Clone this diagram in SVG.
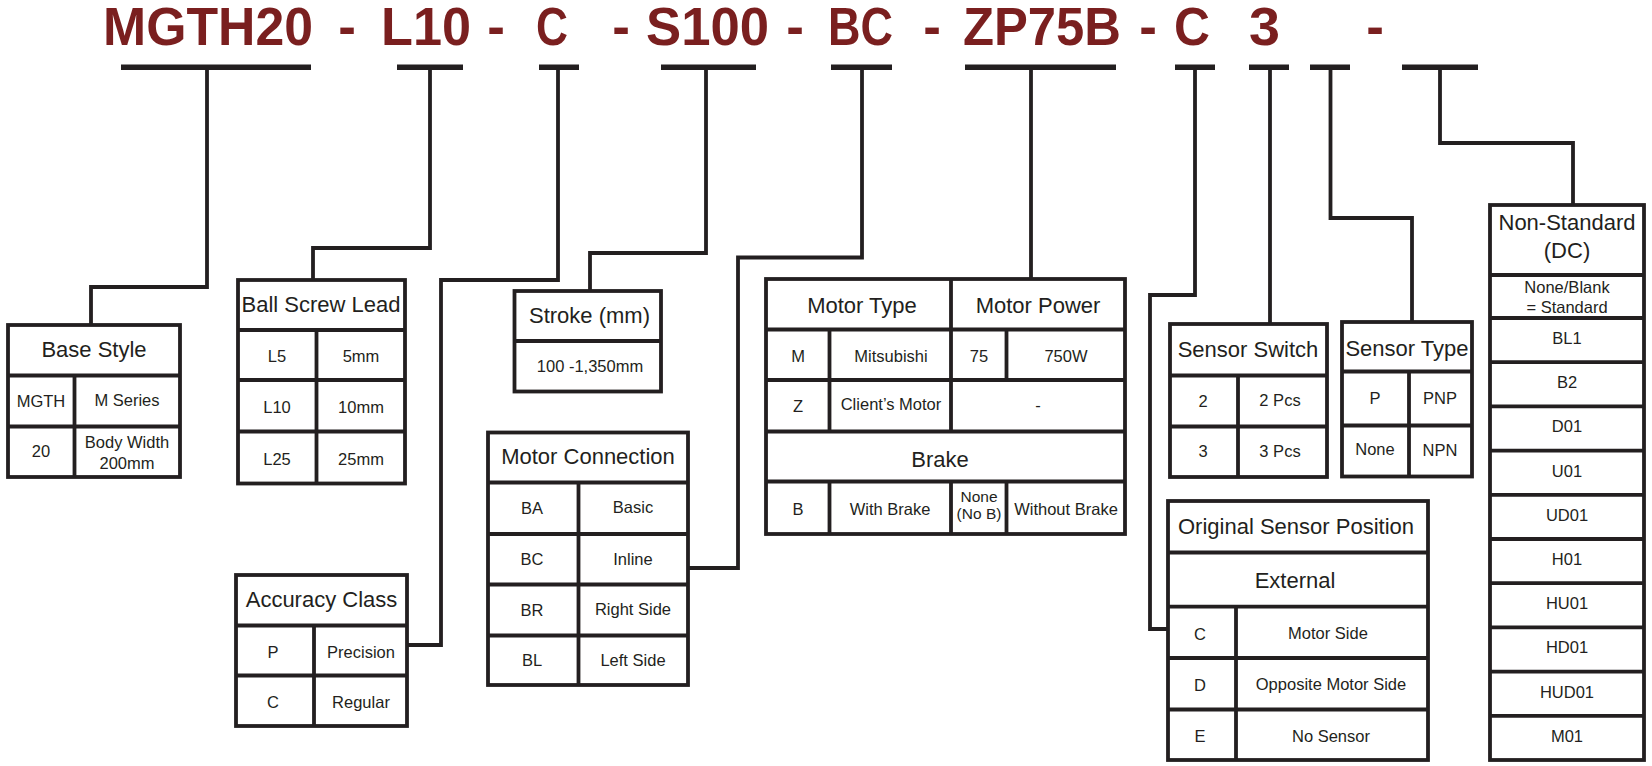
<svg xmlns="http://www.w3.org/2000/svg" width="1652" height="766" viewBox="0 0 1652 766">
<style>
.ln{stroke:#231f20;stroke-width:3.8;fill:none}
.bar{fill:#231f20}
.code{font-family:"Liberation Sans",Arial,sans-serif;font-weight:bold;font-size:53px;fill:#7a1f1f}
.hy{font-family:"Liberation Sans",Arial,sans-serif;font-weight:bold;font-size:53px;fill:#7a1f1f;text-anchor:middle}
.h{font-family:"Liberation Sans",Arial,sans-serif;font-size:22px;fill:#231f20;text-anchor:middle}
.c{font-family:"Liberation Sans",Arial,sans-serif;font-size:16.5px;fill:#231f20;text-anchor:middle}
.s{font-family:"Liberation Sans",Arial,sans-serif;font-size:15.5px;fill:#231f20;text-anchor:middle}
</style>
<rect width="1652" height="766" fill="#ffffff"/>
<g id="code">
<text class="code" x="103" y="45" textLength="210" lengthAdjust="spacingAndGlyphs">MGTH20</text>
<text class="hy" x="347" y="45">-</text>
<text class="code" x="381" y="45" textLength="90" lengthAdjust="spacingAndGlyphs">L10</text>
<text class="hy" x="496" y="45">-</text>
<text class="code" x="536" y="45" textLength="32" lengthAdjust="spacingAndGlyphs">C</text>
<text class="hy" x="621" y="45">-</text>
<text class="code" x="646" y="45" textLength="123" lengthAdjust="spacingAndGlyphs">S100</text>
<text class="hy" x="795" y="45">-</text>
<text class="code" x="828" y="45" textLength="65" lengthAdjust="spacingAndGlyphs">BC</text>
<text class="hy" x="932" y="45">-</text>
<text class="code" x="963" y="45" textLength="158" lengthAdjust="spacingAndGlyphs">ZP75B</text>
<text class="hy" x="1148" y="45">-</text>
<text class="code" x="1174" y="45" textLength="36" lengthAdjust="spacingAndGlyphs">C</text>
<text class="code" x="1249" y="45" textLength="31" lengthAdjust="spacingAndGlyphs">3</text>
<text class="hy" x="1375" y="45">-</text>
</g>
<g id="connectors">
<rect class="bar" x="121" y="64.5" width="190" height="5.5"/>
<rect class="bar" x="397" y="64.5" width="66" height="5.5"/>
<rect class="bar" x="539" y="64.5" width="40" height="5.5"/>
<rect class="bar" x="661" y="64.5" width="95" height="5.5"/>
<rect class="bar" x="831" y="64.5" width="61" height="5.5"/>
<rect class="bar" x="965" y="64.5" width="151" height="5.5"/>
<rect class="bar" x="1175" y="64.5" width="40" height="5.5"/>
<rect class="bar" x="1249" y="64.5" width="40" height="5.5"/>
<rect class="bar" x="1310" y="64.5" width="40" height="5.5"/>
<rect class="bar" x="1402" y="64.5" width="76" height="5.5"/>
<path class="ln" d="M207 70V287H91V325"/>
<path class="ln" d="M430 70V248H313V280"/>
<path class="ln" d="M558 70V280H441V645H407"/>
<path class="ln" d="M706 70V253H590V291"/>
<path class="ln" d="M862 70V257.5H738V568H688"/>
<path class="ln" d="M1031 70V279"/>
<path class="ln" d="M1195 70V295H1150V629H1168"/>
<path class="ln" d="M1270 70V324"/>
<path class="ln" d="M1330.5 70V218H1412V322"/>
<path class="ln" d="M1440 70V143H1573V205"/>
</g>
<g id="base-style">
<rect class="ln" x="8" y="325" width="172" height="152"/>
<path class="ln" d="M8 375.5H180M8 426.5H180M74.5 375.5V477"/>
<text class="h" x="94" y="357">Base Style</text>
<text class="c" x="41" y="407">MGTH</text>
<text class="c" x="127" y="406">M Series</text>
<text class="c" x="41" y="457">20</text>
<text class="c" x="127" y="448">Body Width</text>
<text class="c" x="127" y="469">200mm</text>
</g>
<g id="ball-screw-lead">
<rect class="ln" x="238" y="280" width="167" height="203.5"/>
<path class="ln" d="M238 330H405M238 380H405M238 431.5H405M316.5 330V483.5"/>
<text class="h" x="321" y="312">Ball Screw Lead</text>
<text class="c" x="277" y="362">L5</text>
<text class="c" x="361" y="362">5mm</text>
<text class="c" x="277" y="413">L10</text>
<text class="c" x="361" y="413">10mm</text>
<text class="c" x="277" y="464.5">L25</text>
<text class="c" x="361" y="464.5">25mm</text>
</g>
<g id="accuracy-class">
<rect class="ln" x="236" y="575" width="171" height="151"/>
<path class="ln" d="M236 625.5H407M236 675.5H407M314 625.5V726"/>
<text class="h" x="321.5" y="607">Accuracy Class</text>
<text class="c" x="273" y="658">P</text>
<text class="c" x="361" y="658">Precision</text>
<text class="c" x="273" y="708">C</text>
<text class="c" x="361" y="708">Regular</text>
</g>
<g id="stroke">
<rect class="ln" x="514.5" y="291" width="146.5" height="100.5"/>
<path class="ln" d="M514.5 341H661"/>
<text class="h" x="589.5" y="323">Stroke (mm)</text>
<text class="c" x="590" y="372">100 -1,350mm</text>
</g>
<g id="motor-connection">
<rect class="ln" x="488" y="432.5" width="200" height="252.5"/>
<path class="ln" d="M488 482.5H688M488 534H688M488 584.5H688M488 635.5H688M578.5 482.5V685"/>
<text class="h" x="588" y="464">Motor Connection</text>
<text class="c" x="532" y="514">BA</text>
<text class="c" x="633" y="513">Basic</text>
<text class="c" x="532" y="565">BC</text>
<text class="c" x="633" y="565">Inline</text>
<text class="c" x="532" y="616">BR</text>
<text class="c" x="633" y="615">Right Side</text>
<text class="c" x="532" y="666">BL</text>
<text class="c" x="633" y="666">Left Side</text>
</g>
<g id="motor-type-power">
<rect class="ln" x="766" y="279" width="359" height="255"/>
<path class="ln" d="M766 329.5H1125M766 380H1125M766 431.5H1125M766 481.5H1125M951 279V431.5M829.5 329.5V431.5M1006.5 329.5V380M829.5 481.5V534M951 481.5V534M1006.5 481.5V534"/>
<text class="h" x="862" y="313">Motor Type</text>
<text class="h" x="1038" y="313">Motor Power</text>
<text class="c" x="798" y="362">M</text>
<text class="c" x="891" y="362">Mitsubishi</text>
<text class="c" x="979" y="362">75</text>
<text class="c" x="1066" y="362">750W</text>
<text class="c" x="798" y="412">Z</text>
<text class="c" x="891" y="410">Client’s Motor</text>
<text class="c" x="1038" y="411">-</text>
<text class="h" x="940" y="467">Brake</text>
<text class="c" x="798" y="515">B</text>
<text class="c" x="890" y="515">With Brake</text>
<text class="s" x="979" y="502">None</text>
<text class="s" x="979" y="519">(No B)</text>
<text class="c" x="1066" y="515">Without Brake</text>
</g>
<g id="sensor-switch">
<rect class="ln" x="1170" y="324" width="157" height="153"/>
<path class="ln" d="M1170 375.5H1327M1170 426.5H1327M1238 375.5V477"/>
<text class="h" x="1248" y="357">Sensor Switch</text>
<text class="c" x="1203" y="407">2</text>
<text class="c" x="1280" y="406">2 Pcs</text>
<text class="c" x="1203" y="457">3</text>
<text class="c" x="1280" y="457">3 Pcs</text>
</g>
<g id="sensor-type">
<rect class="ln" x="1342" y="322" width="130" height="154.5"/>
<path class="ln" d="M1342 371.5H1472M1342 425.5H1472M1409 371.5V476.5"/>
<text class="h" x="1407" y="356">Sensor Type</text>
<text class="c" x="1375" y="404">P</text>
<text class="c" x="1440" y="404">PNP</text>
<text class="c" x="1375" y="455">None</text>
<text class="c" x="1440" y="456">NPN</text>
</g>
<g id="original-sensor-position">
<rect class="ln" x="1168" y="501" width="260" height="259"/>
<path class="ln" d="M1168 552.5H1428M1168 606.7H1428M1168 658H1428M1168 709.5H1428M1236 606.7V760"/>
<text class="h" x="1296" y="534">Original Sensor Position</text>
<text class="h" x="1295" y="588">External</text>
<text class="c" x="1200" y="640">C</text>
<text class="c" x="1328" y="639">Motor Side</text>
<text class="c" x="1200" y="691">D</text>
<text class="c" x="1331" y="690">Opposite Motor Side</text>
<text class="c" x="1200" y="742">E</text>
<text class="c" x="1331" y="742">No Sensor</text>
</g>
<g id="non-standard">
<rect class="ln" x="1490" y="205" width="154" height="555"/>
<path class="ln" d="M1490 275H1644M1490 318H1644M1490 362.2H1644M1490 406.4H1644M1490 450.6H1644M1490 494.8H1644M1490 539H1644M1490 583.2H1644M1490 627.4H1644M1490 671.6H1644M1490 715.8H1644"/>
<text class="h" x="1567" y="230">Non-Standard</text>
<text class="h" x="1567" y="258">(DC)</text>
<text class="c" x="1567" y="293">None/Blank</text>
<text class="c" x="1567" y="313">= Standard</text>
<text class="c" x="1567" y="344">BL1</text>
<text class="c" x="1567" y="388">B2</text>
<text class="c" x="1567" y="432">D01</text>
<text class="c" x="1567" y="477">U01</text>
<text class="c" x="1567" y="521">UD01</text>
<text class="c" x="1567" y="565">H01</text>
<text class="c" x="1567" y="609">HU01</text>
<text class="c" x="1567" y="653">HD01</text>
<text class="c" x="1567" y="698">HUD01</text>
<text class="c" x="1567" y="742">M01</text>
</g>
</svg>
